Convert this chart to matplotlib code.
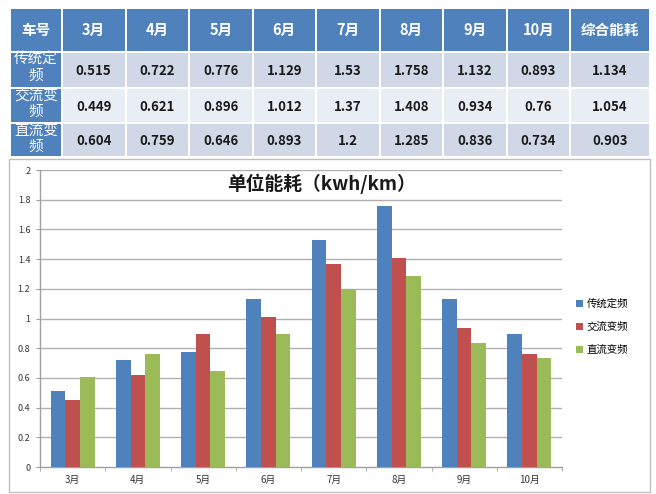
import numpy as np
import matplotlib
matplotlib.use("Agg")
import matplotlib.pyplot as plt
from matplotlib.patches import Rectangle

plt.rcParams['font.family'] = ['Noto Sans CJK SC', 'DejaVu Sans']

# ---- data ----
months = ['3月', '4月', '5月', '6月', '7月', '8月', '9月', '10月']
series = ['传统定频', '交流变频', '直流变频']
v_fixed = [0.515, 0.722, 0.776, 1.129, 1.53, 1.758, 1.132, 0.893]
v_ac = [0.449, 0.621, 0.896, 1.012, 1.37, 1.408, 0.934, 0.76]
v_dc = [0.604, 0.759, 0.646, 0.893, 1.2, 1.285, 0.836, 0.734]
overall = [1.134, 1.054, 0.903]
header_first = '车号'
header_last = '综合能耗'
title = '单位能耗（kwh/km）'
yticks = [0, 0.2, 0.4, 0.6, 0.8, 1.0, 1.2, 1.4, 1.6, 1.8, 2.0]

values = [v_fixed, v_ac, v_dc]
colors = ['#4F81BD', '#C0504D', '#9BBB59']

W, H = 656, 494
fig = plt.figure(figsize=(W / 100, H / 100), dpi=100)
fig.patch.set_facecolor('white')

# overlay axes in pixel coordinates
ov = fig.add_axes([0, 0, 1, 1], zorder=0)
ov.set_xlim(0, W)
ov.set_ylim(H, 0)
ov.axis('off')

# ---- table ----
col_x = [10, 62] + [62 + 63.5 * (i + 1) for i in range(8)] + [650]
row_y = [8, 52, 88, 123, 157]
hdr_blue = '#4F81BD'
row_cols = ['#D0D8E8', '#E9EDF4', '#D0D8E8']
gap = 1.0

header = [header_first] + months + [header_last]
for c in range(len(header)):
    x0, x1 = col_x[c], col_x[c + 1]
    y0, y1 = row_y[0], row_y[1]
    ov.add_patch(Rectangle((x0 + gap, y0 + gap), x1 - x0 - 2 * gap, y1 - y0 - 2 * gap,
                           facecolor=hdr_blue, edgecolor='none'))
    ov.text((x0 + x1) / 2, (y0 + y1) / 2, header[c], ha='center', va='center',
            color='white', fontsize=10.5, fontweight='bold')

for r in range(3):
    y0, y1 = row_y[r + 1], row_y[r + 2]
    # first column label
    x0, x1 = col_x[0], col_x[1]
    p = Rectangle((x0 + gap, y0 + gap), x1 - x0 - 2 * gap, y1 - y0 - 2 * gap,
                  facecolor=hdr_blue, edgecolor='none')
    ov.add_patch(p)
    lbl = series[r][:3] + '\n' + series[r][3:]
    t = ov.text((x0 + x1) / 2, y0 + 1, lbl, ha='center', va='top', color='white',
                fontsize=10.5, fontweight='medium', linespacing=1.2)
    t.set_clip_path(p)
    row_vals = values[r] + [overall[r]]
    for c in range(1, len(header)):
        x0, x1 = col_x[c], col_x[c + 1]
        ov.add_patch(Rectangle((x0 + gap, y0 + gap), x1 - x0 - 2 * gap, y1 - y0 - 2 * gap,
                               facecolor=row_cols[r], edgecolor='none'))
        ov.text((x0 + x1) / 2, (y0 + y1) / 2 + 1, f"{row_vals[c - 1]:g}", ha='center',
                va='center', color='#1a1a1a', fontsize=9.5, fontweight='bold')

# chart panel border
ov.add_patch(Rectangle((9, 159), 641, 333, facecolor='white', edgecolor='#bfbfbf', lw=1.0))

# ---- bar chart ----
ax_l, ax_r, ax_t, ax_b = 40, 562, 170, 467
ax = fig.add_axes([ax_l / W, (H - ax_b) / H, (ax_r - ax_l) / W, (ax_b - ax_t) / H], zorder=2)
ax.set_facecolor('none')
x = np.arange(len(months))
bw = 0.225
for i, (vals, col, name) in enumerate(zip(values, colors, series)):
    ax.bar(x + (i - 1) * bw, vals, width=bw, color=col, label=name, zorder=3)

ax.set_xlim(-0.5, len(months) - 0.5)
ax.set_ylim(0, 2)
ax.set_yticks(yticks)
ax.set_yticklabels([f"{t:g}" for t in yticks], fontsize=6.5, color='#333333')
ax.set_xticks(x)
ax.set_xticklabels(months, fontsize=7, color='#333333')
ax.set_xticks(np.arange(-0.5, len(months)), minor=True)
ax.tick_params(axis='x', which='major', length=0, pad=6)
ax.tick_params(axis='x', which='minor', length=3, color='#a0a0a0')
ax.tick_params(axis='y', length=3, color='#a0a0a0', pad=4)
for yt in yticks[1:]:
    ax.axhline(yt, color='#b0b0b0', lw=1.0, zorder=1)
for s in ['top', 'right']:
    ax.spines[s].set_visible(False)
for s in ['left', 'bottom']:
    ax.spines[s].set_color('#a0a0a0')
    ax.spines[s].set_linewidth(1.0)

fig.text(322 / W, (H - 184) / H, title, ha='center', va='center', fontsize=13.5,
         fontweight='bold', color='#1a1a1a')

leg = ax.legend(loc='center left', bbox_to_anchor=(572 / W, (H - 327) / H),
                bbox_transform=fig.transFigure, frameon=False, fontsize=7.5,
                handlelength=0.7, handleheight=0.7, handletextpad=0.3,
                labelspacing=1.2, borderaxespad=0)

fig.savefig('out.png', dpi=100)
